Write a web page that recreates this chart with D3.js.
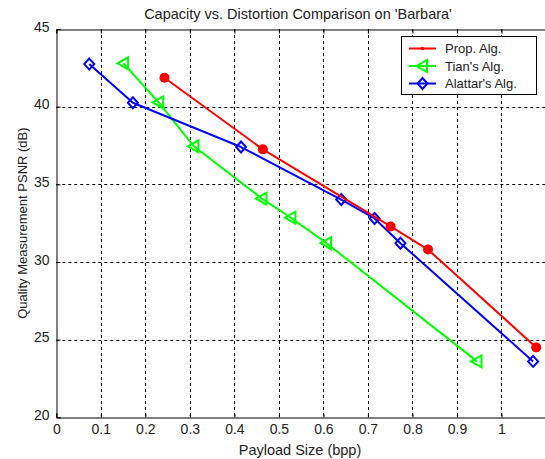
<!DOCTYPE html>
<html>
<head>
<meta charset="utf-8">
<script src="https://cdn.jsdelivr.net/npm/d3@7"></script>
<style>
  body { margin: 0; background: #fff; }
  svg { display: block; font-family: "Liberation Sans", Arial, sans-serif; }
</style>
</head>
<body>
<div id="chart"></div>
<script>
// data
var propX = [0.243, 0.464, 0.751, 0.835, 1.078];
var propY = [41.86, 37.25, 32.29, 30.80, 24.50];
var tianX = [0.151, 0.230, 0.309, 0.462, 0.527, 0.607, 0.945];
var tianY = [42.79, 40.27, 37.45, 34.08, 32.85, 31.21, 23.60];
var alatX = [0.074, 0.172, 0.415, 0.640, 0.715, 0.773, 1.071];
var alatY = [42.74, 40.25, 37.40, 34.02, 32.80, 31.21, 23.60];
var xTicks = [0, 0.1, 0.2, 0.3, 0.4, 0.5, 0.6, 0.7, 0.8, 0.9, 1];
var yTicks = [20, 25, 30, 35, 40, 45];
var seriesNames = ["Prop. Alg.", "Tian's Alg.", "Alattar's Alg."];

var width = 545, height = 459;
var svg = d3.select("#chart").append("svg")
    .attr("width", width)
    .attr("height", height);

var x = d3.scaleLinear().domain([0, 1.1]).range([56.3, 546]);
var y = d3.scaleLinear().domain([20, 45]).range([417.3, 29]);

var textCol = "#222";

//grid lines
var grid = svg.append("g")
    .attr("stroke", "#000")
    .attr("stroke-width", 1)
    .attr("stroke-dasharray", "3,3");
grid.selectAll("line.vx")
    .data(xTicks.slice(1))
    .enter().append("line")
    .attr("x1", d => Math.round(x(d)) + 0.5)
    .attr("x2", d => Math.round(x(d)) + 0.5)
    .attr("y1", y(45))
    .attr("y2", y(20));
grid.selectAll("line.hy")
    .data(yTicks.slice(1, -1))
    .enter().append("line")
    .attr("x1", x(0))
    .attr("x2", x(1.1))
    .attr("y1", d => Math.round(y(d)) + 0.5)
    .attr("y2", d => Math.round(y(d)) + 0.5);

//axes box
var xAxis = svg.append("g")
    .attr("transform", "translate(0," + (Math.round(y(20)) + 0.5) + ")")
    .call(d3.axisBottom(x).tickValues(xTicks).tickSize(-4).tickPadding(7).tickFormat(d3.format("")));
var xAxisTop = svg.append("g")
    .attr("transform", "translate(0," + (Math.round(y(45)) + 0.5) + ")")
    .call(d3.axisTop(x).tickValues(xTicks).tickSize(-4).tickFormat(""));
var yAxis = svg.append("g")
    .attr("transform", "translate(" + (Math.round(x(0)) + 0.5) + ",0)")
    .call(d3.axisLeft(y).tickValues(yTicks).tickSize(-4).tickPadding(7));

[xAxis, xAxisTop, yAxis].forEach(function(a) {
    a.select(".domain").attr("stroke", "#000");
    a.selectAll(".tick line").attr("stroke", "#000");
    a.selectAll("text")
        .attr("font-family", "Liberation Sans, Arial, sans-serif")
        .attr("font-size", "14px")
        .attr("fill", textCol);
});
yAxis.selectAll("text").attr("dy", "0.15em");

//title and labels
svg.append("text")
    .attr("x", 298)
    .attr("y", 19)
    .attr("text-anchor", "middle")
    .attr("font-size", "14.5px")
    .attr("fill", textCol)
    .text("Capacity vs. Distortion Comparison on 'Barbara'");

svg.append("text")
    .attr("x", 300)
    .attr("y", 455)
    .attr("text-anchor", "middle")
    .attr("font-size", "14.5px")
    .attr("fill", textCol)
    .text("Payload Size (bpp)");

svg.append("text")
    .attr("transform", "translate(27," + y(32.5) + ") rotate(-90)")
    .attr("text-anchor", "middle")
    .attr("font-size", "13px")
    .attr("fill", textCol)
    .text("Quality Measurement PSNR (dB)");

//series
var line = d3.line()
    .x(d => x(d[0]))
    .y(d => y(d[1]));

var series = [
    {name: seriesNames[0], xs: propX, ys: propY, color: "#ff0000", marker: "dot"},
    {name: seriesNames[1], xs: tianX, ys: tianY, color: "#00ff00", marker: "tri"},
    {name: seriesNames[2], xs: alatX, ys: alatY, color: "#0000ff", marker: "dia"}
];

function drawMarker(g, type, color, cx, cy, small) {
    if (type == "dot") {
        g.append("circle")
        .attr("cx", cx).attr("cy", cy)
        .attr("r", small ? 1.8 : 5)
        .attr("fill", color);
    } else if (type == "tri") {
        g.append("path")
        .attr("d", "M" + (cx - 6) + "," + cy + "L" + (cx + 4.5) + "," + (cy - 6) + "L" + (cx + 4.5) + "," + (cy + 6) + "Z")
        .attr("fill", "none")
        .attr("stroke", color)
        .attr("stroke-width", 2);
    } else {
        g.append("path")
        .attr("d", "M" + cx + "," + (cy - 5.5) + "L" + (cx + 5) + "," + cy + "L" + cx + "," + (cy + 5.5) + "L" + (cx - 5) + "," + cy + "Z")
        .attr("fill", "none")
        .attr("stroke", color)
        .attr("stroke-width", 2);
    }
}

// draw Tian first, then Alattar, then Prop on top where lines overlap
[series[1], series[2], series[0]].forEach(function(s) {
    var pts = s.xs.map((v, i) => [v, s.ys[i]]);
    var g = svg.append("g");
    g.append("path")
        .datum(pts)
        .attr("fill", "none")
        .attr("stroke", s.color)
        .attr("stroke-width", 2)
        .attr("stroke-linejoin", "round")
        .attr("d", line);
    pts.forEach(p => drawMarker(g, s.marker, s.color, x(p[0]), y(p[1]), false));
});

//legend
var lg = svg.append("g");
lg.append("rect")
    .attr("x", 401.5)
    .attr("y", 36.5)
    .attr("width", 135)
    .attr("height", 58)
    .attr("fill", "#fff")
    .attr("stroke", "#000");
series.forEach(function(s, i) {
    var ly = 48.5 + i * 17.5;
    lg.append("line")
        .attr("x1", 409).attr("x2", 436)
        .attr("y1", ly).attr("y2", ly)
        .attr("stroke", s.color)
        .attr("stroke-width", 2);
    drawMarker(lg, s.marker, s.color, 422.5, ly, true);
    lg.append("text")
        .attr("x", 445)
        .attr("y", ly + 4.5)
        .attr("font-size", "13px")
        .attr("fill", textCol)
        .text(s.name);
});
</script>
</body>
</html>
